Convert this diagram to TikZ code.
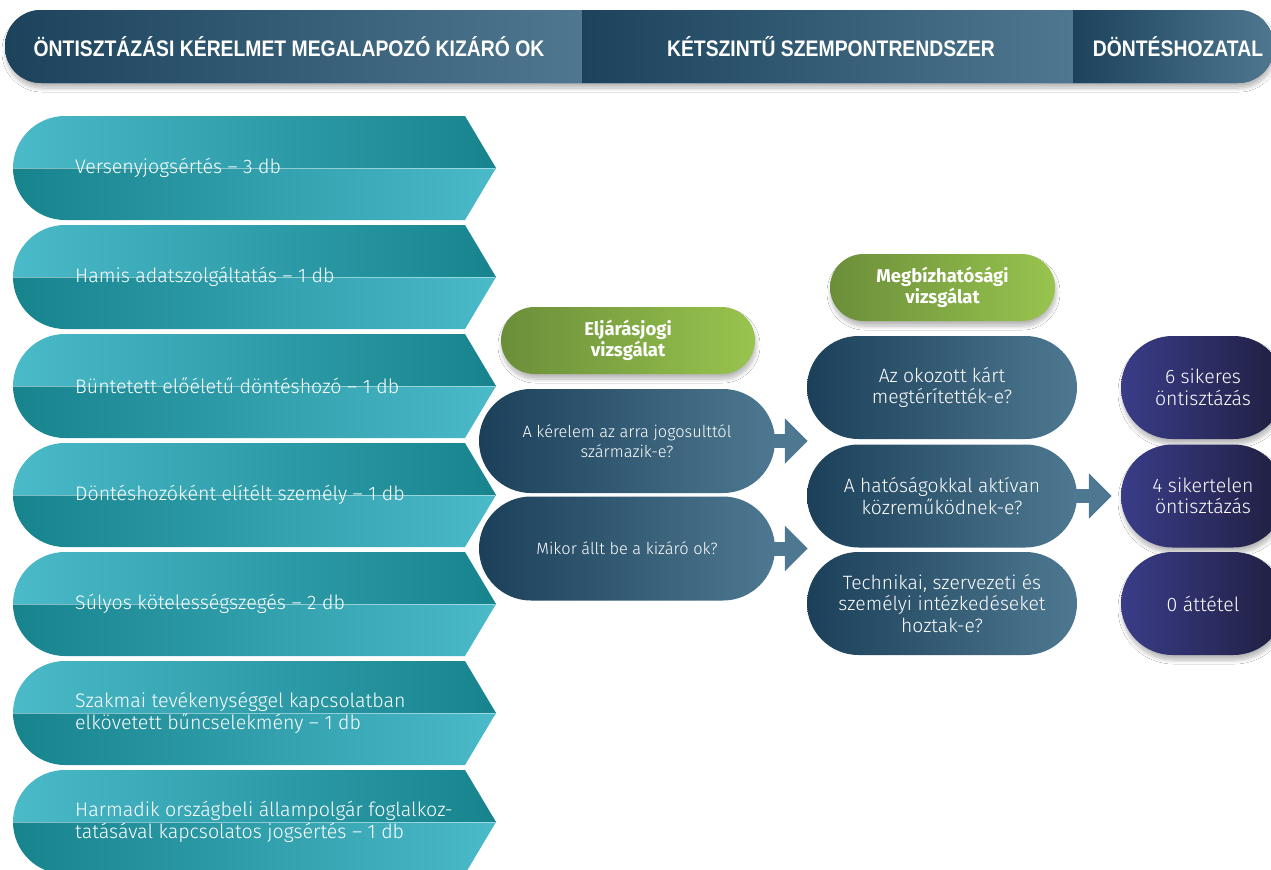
\documentclass[tikz,border=0pt]{standalone}
\usepackage{fontspec}
\usetikzlibrary{shapes.misc,shadows.blur,arrows.meta}
\newfontfamily\hdrf{Liberation Sans}[FakeStretch=0.86]
\newfontfamily\bodyf{Fira Sans Light}
\newfontfamily\boldf{Fira Sans}
\definecolor{hdark}{HTML}{1C425C}
\definecolor{hlight}{HTML}{4F7890}
\definecolor{pdark}{HTML}{1C4059}
\definecolor{plight}{HTML}{4E7891}
\definecolor{tlight}{HTML}{4BBAC9}
\definecolor{tdark}{HTML}{16838D}
\definecolor{gdark}{HTML}{6B8E3A}
\definecolor{glight}{HTML}{98C44E}
\definecolor{vleft}{HTML}{3A3C88}
\definecolor{vright}{HTML}{1F1F40}
\tikzset{
  shad/.style={blur shadow={shadow blur steps=10, shadow xshift=1bp, shadow yshift=-5bp, shadow opacity=28, shadow blur radius=4bp}},
  pill/.style={rounded rectangle, inner sep=0pt, align=center, text=white},
  bluepill/.style={pill, left color=pdark, right color=plight, font=\bodyf\fontsize{19.3bp}{21.5bp}\selectfont},
  smallpill/.style={bluepill, font=\bodyf\fontsize{16.4bp}{20bp}\selectfont},
  greenpill/.style={pill, shad, left color=gdark, right color=glight, font=\boldf\bfseries\fontsize{18.5bp}{21.5bp}\selectfont},
  respill/.style={pill, shad, left color=vleft, right color=vright, font=\bodyf\fontsize{19.5bp}{21.5bp}\selectfont},
  hdrtext/.style={text=white, inner sep=0pt, font=\hdrf\bfseries\fontsize{22.5bp}{24bp}\selectfont},
  lefttext/.style={text=white, inner sep=0pt, anchor=west, align=left, font=\bodyf\fontsize{19.6bp}{22bp}\selectfont},
  blockarrow/.style={draw=plight, line width=14bp, -{Triangle[width=44bp,length=23bp]}, fill=plight}
}
\begin{document}
\begin{tikzpicture}[x=1bp,y=-1bp]
\useasboundingbox (0,0) rectangle (1271,870);
\fill[white] (0,0) rectangle (1271,870);
% header
\path[shad, fill=hdark, rounded corners=36bp] (5,10) rectangle (1274,83);
\begin{scope}
  \clip[rounded corners=36bp] (5,10) rectangle (1274,83);
  \shade[left color=hdark, right color=hlight] (5,10) rectangle (582,83);
  \shade[left color=hdark, right color=hlight] (582,10) rectangle (1073,83);
  \shade[left color=hdark, right color=hlight] (1073,10) rectangle (1274,83);
\end{scope}
\node[hdrtext] (h1) at (289,46.5) {ÖNTISZTÁZÁSI KÉRELMET MEGALAPOZÓ KIZÁRÓ OK};
\node[hdrtext] (h2) at (831,46.5) {KÉTSZINTŰ SZEMPONTRENDSZER};
\node[hdrtext] (h3) at (1178,46.5) {DÖNTÉSHOZATAL};
% left arrows
\foreach \i/\txt in {1/{Versenyjogsértés – 3 db},
  2/{Hamis adatszolgáltatás – 1 db},
  3/{Büntetett előéletű döntéshozó – 1 db},
  4/{Döntéshozóként elítélt személy – 1 db},
  5/{Súlyos kötelességszegés – 2 db},
  6/{Szakmai tevékenységgel kapcsolatban\\elkövetett bűncselekmény – 1 db},
  7/{Harmadik országbeli állampolgár foglalkoz-\\tatásával kapcsolatos jogsértés – 1 db}}{
  \pgfmathsetmacro\t{116+109*(\i-1)}
  \begin{scope}
    \clip (65,\t) -- (465,\t) -- (496,\t+52) -- (465,\t+104) -- (65,\t+104) arc[start angle=90,end angle=270,radius=52] -- cycle;
    \shade[left color=tlight, right color=tdark] (12,\t) rectangle (497,\t+52);
    \shade[left color=tdark, right color=tlight] (12,\t+52) rectangle (497,\t+104);
  \end{scope}
  \draw[white, opacity=0.45, line width=0.8bp] (13,\t+52) -- (495,\t+52);
  \node[lefttext] (L\i) at (75,\t+52) {\txt};
}
% middle column
\node[greenpill, minimum width=254bp, minimum height=67bp] (g1) at (628,340.5) {Eljárásjogi\\vizsgálat};
\node[smallpill, minimum width=296bp, minimum height=104bp] (q1) at (627,441) {A kérelem az arra jogosulttól\\származik-e?};
\node[smallpill, minimum width=296bp, minimum height=104bp] (q2) at (627,548.5) {Mikor állt be a kizáró ok?};
% right column
\node[greenpill, minimum width=225bp, minimum height=67bp] (g2) at (942.5,287.5) {Megbízhatósági\\vizsgálat};
\node[bluepill, minimum width=270bp, minimum height=103bp] (r1) at (942,387.5) {Az okozott kárt\\megtérítették-e?};
\node[bluepill, minimum width=270bp, minimum height=103bp] (r2) at (942,496) {A hatóságokkal aktívan\\közreműködnek-e?};
\node[bluepill, minimum width=270bp, minimum height=103bp] (r3) at (942,603.5) {Technikai, szervezeti és\\személyi intézkedéseket\\hoztak-e?};
% results
\node[respill, minimum width=164bp, minimum height=103bp] (s1) at (1203,387.5) {6 sikeres\\öntisztázás};
\node[respill, minimum width=164bp, minimum height=103bp] (s2) at (1203,496) {4 sikertelen\\öntisztázás};
\node[respill, minimum width=164bp, minimum height=103bp] (s3) at (1203,603.5) {0 áttétel};
% arrows
\draw[blockarrow] ([xshift=-3bp]q1.east) -- ([xshift=1bp]q1.east -| r1.west);
\draw[blockarrow] ([xshift=-3bp]q2.east) -- ([xshift=1bp]q2.east -| r3.west);
\draw[blockarrow] ([xshift=-3bp]r2.east) -- ([xshift=-9bp]s2.west);
\end{tikzpicture}
\end{document}
